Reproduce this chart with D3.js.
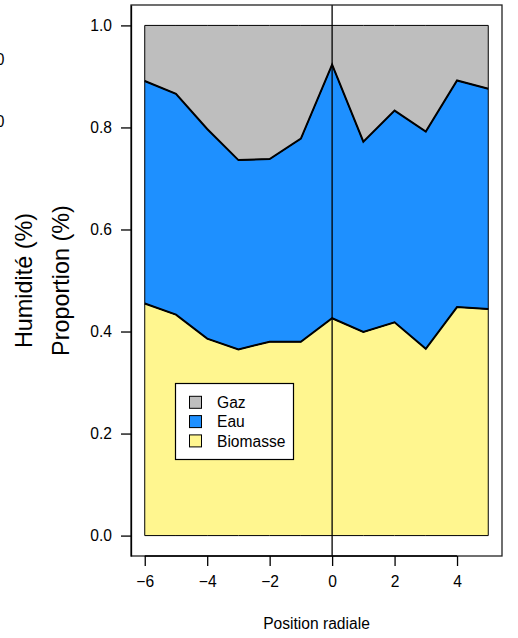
<!DOCTYPE html>
<html><head><meta charset="utf-8">
<script src="https://cdn.jsdelivr.net/npm/d3@7"></script>
<style>body{margin:0;background:#fff}svg{display:block}text{font-family:"Liberation Sans",Arial,sans-serif;fill:#000}</style>
</head><body>
<svg id="c" width="518" height="638"></svg>
<script>
const positions = [-6,-5,-4,-3,-2,-1,0,1,2,3,4,5];
const biomasse = [0.455,0.433,0.386,0.365,0.380,0.380,0.426,0.399,0.418,0.366,0.448,0.444];
const eau      = [0.436,0.433,0.411,0.371,0.358,0.398,0.497,0.373,0.415,0.426,0.444,0.432];
const gaz      = [0.109,0.134,0.203,0.264,0.262,0.222,0.077,0.228,0.167,0.208,0.108,0.124];
const seriesNames = ["Gaz","Eau","Biomasse"];
const seriesColors = ["#BEBEBE","#1E90FF","#FFF68F"];
const xTicks = [-6,-4,-2,0,2,4];
const yTicks = [0,0.2,0.4,0.6,0.8,1.0];
const xLabel = "Position radiale";
const yLabels = ["Humidité (%)","Proportion (%)"];
const sideLabels = ["0","0"];

const svg = d3.select("#c");
const L=131,R=502,T=5,B=556;
const x = d3.scaleLinear().domain([-6.44,5.44]).range([L,R]);
const y = d3.scaleLinear().domain([-0.04,1.04]).range([B,T]);

const rows = positions.map((p,i)=>({p, Biomasse:biomasse[i], Eau:eau[i], Gaz:gaz[i]}));
const stack = d3.stack().keys(["Biomasse","Eau","Gaz"])(rows);
const colorOf = {Gaz:seriesColors[0],Eau:seriesColors[1],Biomasse:seriesColors[2]};
const area = d3.area().x(d=>x(d.data.p)).y0(d=>y(d[0])).y1(d=>y(d[1]));
stack.forEach(s=>{
  svg.append("path").attr("d",area(s)).attr("fill",colorOf[s.key])
    .attr("stroke","#000").attr("stroke-width",1);
});
const line = d3.line().x(d=>x(d.data.p)).y(d=>y(d[1]));
stack.slice(0,2).forEach(s=>{
  svg.append("path").attr("d",line(s)).attr("fill","none")
    .attr("stroke","#000").attr("stroke-width",2).attr("stroke-linejoin","miter");
});
// vertical line at 0
svg.append("line").attr("x1",x(0)).attr("x2",x(0)).attr("y1",T).attr("y2",B)
  .attr("stroke","#000").attr("stroke-width",1.3);
// box
svg.append("rect").attr("x",L).attr("y",T).attr("width",R-L).attr("height",B-T)
  .attr("fill","none").attr("stroke","#222").attr("stroke-width",1.3);

// axes
const xa = svg.append("g").attr("transform",`translate(0,${B})`)
  .call(d3.axisBottom(x).tickValues(xTicks).tickSize(10).tickPadding(8).tickSizeOuter(0));
xa.select(".domain").attr("d",`M${x(-6)},0H${x(4)}`);
xa.selectAll("text").attr("font-size","15.6px").attr("font-family","Liberation Sans, Arial, sans-serif").attr("fill","#000").attr("dy","0.71em").attr("y",20);
xa.selectAll("line,path").attr("stroke","#000").attr("stroke-width",1.3);

const ya = svg.append("g").attr("transform",`translate(${L},0)`)
  .call(d3.axisLeft(y).tickValues(yTicks).tickFormat(d3.format(".1f")).tickSize(10).tickPadding(8).tickSizeOuter(0));
ya.selectAll("text").attr("font-size","15.6px").attr("font-family","Liberation Sans, Arial, sans-serif").attr("fill","#000").attr("x",-19);
ya.selectAll("line,path").attr("stroke","#000").attr("stroke-width",1.3);

svg.append("text").attr("x",(L+R)/2).attr("y",629).attr("text-anchor","middle")
  .attr("font-size","15.6px").text(xLabel);
[32,69].forEach((bx,i)=>{
  svg.append("text").attr("transform",`translate(${bx},${(T+B)/2}) rotate(-90)`)
    .attr("text-anchor","middle").attr("font-size","23.4px").text(yLabels[i]);
});
[59,121].forEach((cy,i)=>{
  svg.append("text").attr("x",4.5).attr("y",cy+5.6).attr("text-anchor","end")
    .attr("font-size","15.6px").text(sideLabels[i]);
});

// legend
const lg = svg.append("g");
lg.append("rect").attr("x",175.5).attr("y",383.5).attr("width",118).attr("height",76)
  .attr("fill","#fff").attr("stroke","#000").attr("stroke-width",1.2);
seriesNames.forEach((n,i)=>{
  const cy = 402.3 + i*19.3;
  lg.append("rect").attr("x",189.5).attr("y",cy-6).attr("width",12).attr("height",12)
    .attr("fill",seriesColors[i]).attr("stroke","#000").attr("stroke-width",1);
  lg.append("text").attr("x",217).attr("y",cy+5.6).attr("font-size","15.6px").text(n);
});
</script>
</body></html>
